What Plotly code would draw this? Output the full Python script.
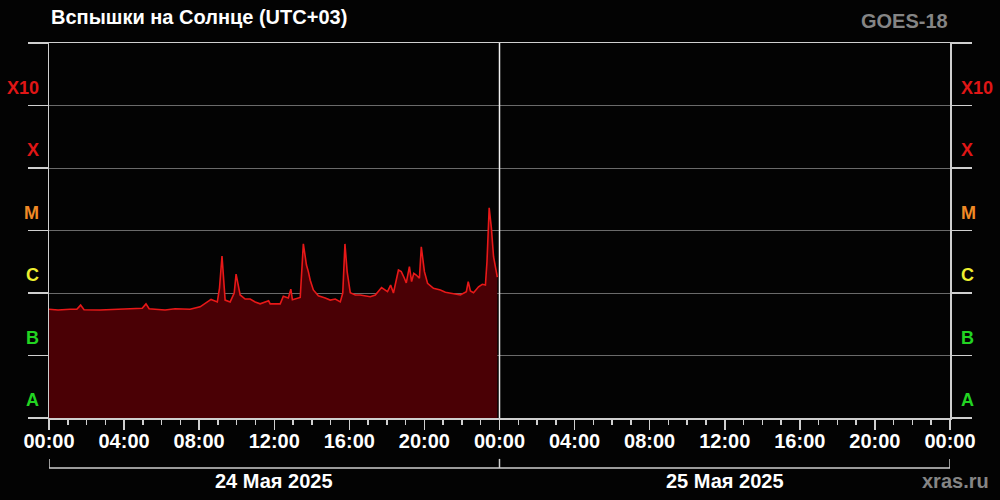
import plotly.graph_objects as go

# ---------------- data ----------------
day = "2025-05-24"
times = ["00:00", "00:29", "01:07", "01:29", "01:41", "01:52", "02:43", "03:47", "04:35", "04:58",
         "05:10", "05:20", "05:39", "06:11", "06:43", "07:31", "08:03", "08:19", "08:38", "08:58",
         "09:05", "09:13", "09:20", "09:23", "09:39", "09:52", "09:58", "10:11", "10:27", "10:43",
         "10:59", "11:15", "11:42", "11:47", "12:19", "12:29", "12:45", "12:53", "12:58", "13:07",
         "13:23", "13:33", "13:43", "13:49", "13:55", "14:05", "14:21", "14:43", "14:59", "15:15",
         "15:31", "15:39", "15:46", "15:53", "16:03", "16:19", "16:35", "17:07", "17:23", "17:43",
         "18:02", "18:12", "18:21", "18:37", "18:46", "18:56", "19:02", "19:12", "19:19", "19:26",
         "19:34", "19:44", "19:50", "20:00", "20:10", "20:29", "20:51", "21:07", "21:29", "21:55",
         "22:14", "22:20", "22:27", "22:37", "22:53", "23:05", "23:15", "23:20", "23:27", "23:34",
         "23:41", "23:48", "23:53"]
flux = [5.5e-7, 5.35e-7, 5.5e-7, 5.5e-7, 6.4e-7, 5.4e-7, 5.35e-7, 5.5e-7, 5.6e-7, 5.7e-7,
        6.7e-7, 5.6e-7, 5.5e-7, 5.35e-7, 5.6e-7, 5.5e-7, 6.0e-7, 6.9e-7, 7.9e-7, 7.2e-7,
        1.2e-6, 3.9e-6, 1.1e-6, 7.7e-7, 7.2e-7, 1.0e-6, 2.0e-6, 9.3e-7, 8.0e-7, 8.0e-7,
        7.2e-7, 6.7e-7, 7.5e-7, 6.7e-7, 6.7e-7, 8.9e-7, 8.3e-7, 1.15e-6, 7.8e-7, 8.0e-7,
        8.5e-7, 6.1e-6, 2.8e-6, 2.2e-6, 1.6e-6, 1.12e-6, 9.0e-7, 8.3e-7, 7.7e-7, 8.0e-7,
        7.2e-7, 1.0e-6, 6.1e-6, 2.2e-6, 1.01e-6, 9.3e-7, 9.3e-7, 8.7e-7, 9.3e-7, 1.22e-6,
        1.05e-6, 1.34e-6, 1.0e-6, 2.33e-6, 2.2e-6, 1.72e-6, 1.45e-6, 2.64e-6, 1.52e-6, 2.07e-6,
        1.94e-6, 1.72e-6, 5.5e-6, 2.19e-6, 1.43e-6, 1.19e-6, 1.12e-6, 1.03e-6, 9.9e-7, 9.3e-7,
        1.05e-6, 1.52e-6, 1.08e-6, 1.01e-6, 1.26e-6, 1.38e-6, 1.34e-6, 3.2e-6, 2.3e-5, 1.1e-5,
        3.8e-6, 2.6e-6, 1.8e-6]

class_labels = ["A", "B", "C", "M", "X", "X10"]
class_colors = ["#22d422", "#22d422", "#eeee30", "#f08a26", "#e01616", "#e01616"]
class_exponents = [-8, -7, -6, -5, -4, -3]
grid_values = [1e-8, 1e-7, 1e-6, 1e-5, 1e-4, 1e-3, 1e-2]
day_bounds = ["2025-05-24 00:00", "2025-05-25 00:00", "2025-05-26 00:00"]
day_labels = ["24 Мая 2025", "25 Мая 2025"]
day_mids = ["2025-05-24 12:00", "2025-05-25 12:00"]

FONT = "Liberation Sans, Arial, sans-serif"
LIGHT = "#cfcfcf"

x = [f"{day} {t}" for t in times]

fig = go.Figure()
fig.add_trace(go.Scatter(
    x=x, y=flux, mode="lines",
    line=dict(color="#e81818", width=1.6),
    fill="tozeroy", fillcolor="#4a0005",
    hoverinfo="skip", showlegend=False,
))

# class labels on both sides
for lab, col, e in zip(class_labels, class_colors, class_exponents):
    for side in ("left", "right"):
        fig.add_annotation(
            xref="paper", yref="y",
            x=0 if side == "left" else 1, y=e,
            xanchor="right" if side == "left" else "left",
            xshift=-8 if side == "left" else 9,
            yanchor="middle", yshift=18,
            text=lab, showarrow=False,
            font=dict(family=FONT, size=18, color=col, weight="bold"),
        )

# day boundary line
fig.add_shape(type="line", xref="x", yref="paper",
              x0=day_bounds[1], x1=day_bounds[1], y0=0, y1=1,
              line=dict(color="#f0f0f0", width=1.5))

# date bracket
fig.add_shape(type="line", xref="x", yref="paper",
              x0=day_bounds[0], x1=day_bounds[-1], y0=-0.1333, y1=-0.1333,
              line=dict(color=LIGHT, width=1.5))
for b in day_bounds:
    fig.add_shape(type="line", xref="x", yref="paper",
                  x0=b, x1=b, y0=-0.1333, y1=-0.109,
                  line=dict(color=LIGHT, width=1.5))
for lab, m in zip(day_labels, day_mids):
    fig.add_annotation(xref="x", yref="paper", x=m, y=-0.168,
                       text=lab, showarrow=False, yanchor="middle",
                       font=dict(family=FONT, size=20, color="#ffffff", weight="bold"))

# title and corner texts
fig.add_annotation(xref="paper", yref="paper", x=0, y=1.069, xanchor="left", yanchor="middle",
                   text="Вспышки на Солнце (UTC+03)", showarrow=False,
                   font=dict(family=FONT, size=20, color="#ffffff", weight="bold"))
fig.add_annotation(xref="paper", yref="paper", x=1, y=1.059, xanchor="right", yanchor="middle",
                   text="GOES-18", showarrow=False,
                   font=dict(family=FONT, size=20, color="#858585", weight="bold"))
fig.add_annotation(xref="paper", yref="paper", x=1.0455, y=-0.168, xanchor="right", yanchor="middle",
                   text="xras.ru", showarrow=False,
                   font=dict(family=FONT, size=20, color="#858585", weight="bold"))

fig.update_layout(
    width=1000, height=500,
    margin=dict(l=49, r=50, t=43, b=82, autoexpand=False),
    paper_bgcolor="#030303", plot_bgcolor="#030303",
    showlegend=False,
    font=dict(family=FONT, color="#ffffff"),
)
fig.update_xaxes(
    type="date", range=[day_bounds[0], day_bounds[-1]],
    tick0=day_bounds[0], dtick=4 * 3600000, tickformat="%H:%M",
    ticks="outside", ticklen=10, tickwidth=1.5, tickcolor=LIGHT,
    minor=dict(dtick=3600000, ticks="outside", ticklen=5, tickwidth=1.5, tickcolor=LIGHT, showgrid=False),
    showgrid=False, zeroline=False,
    showline=True, linecolor=LIGHT, linewidth=1.5, mirror=True,
    tickfont=dict(family=FONT, size=20, color="#ffffff", weight="bold"),
    ticklabelstandoff=-6, automargin=False,
)
fig.update_yaxes(
    type="log", range=[-8, -2],
    tickvals=grid_values, showticklabels=False,
    ticks="outside", ticklen=20, tickwidth=1.5, tickcolor=LIGHT,
    showgrid=True, gridcolor="#6a6a6a", gridwidth=1,
    zeroline=False, automargin=False,
    showline=True, linecolor=LIGHT, linewidth=1.5, mirror="ticks",
)

fig.write_html(
    "out.html",
    config={"displayModeBar": False, "staticPlot": True},
    post_script="document.body.style.margin='0';document.body.style.background='#030303';",
)
